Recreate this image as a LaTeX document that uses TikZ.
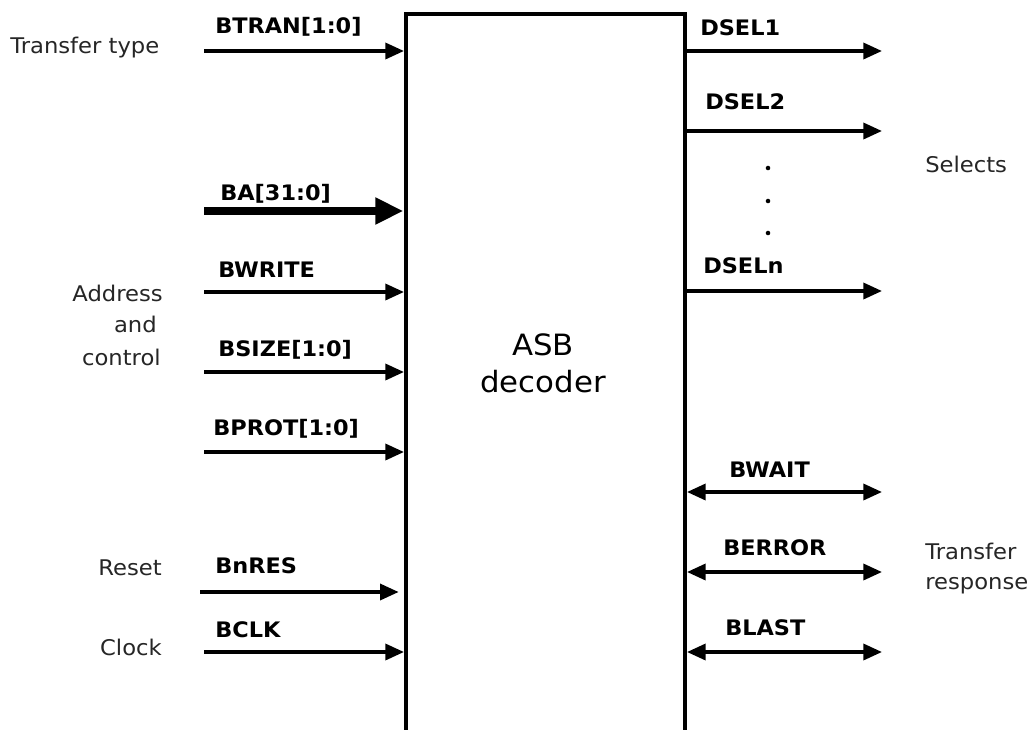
\documentclass[tikz,border=0pt]{standalone}
\usepackage{fontspec}
\setmainfont[FakeStretch=1.05]{DejaVu Sans}
\usetikzlibrary{arrows.meta}
\tikzset{
  sig/.style={line width=2.6pt,-{Triangle[length=14pt,width=12pt]}},
  bus/.style={line width=5.5pt,-{Triangle[length=21pt,width=19pt]}},
  bidir/.style={line width=2.6pt,{Triangle[length=14pt,width=12pt]}-{Triangle[length=14pt,width=12pt]}},
  slabel/.style={anchor=base west,inner sep=0pt,font=\fontsize{16pt}{19pt}\selectfont\bfseries},
  glabel/.style={inner sep=0pt,text=black!85,font=\fontsize{16.2pt}{19pt}\selectfont},
  title/.style={anchor=base,inner sep=0pt,font=\fontsize{22pt}{26pt}\selectfont},
  dotn/.style={circle,fill=black,inner sep=0pt,minimum size=3.4pt}
}
\begin{document}
\begin{tikzpicture}[x=0.75pt,y=-0.75pt]
\useasboundingbox[fill=white] (0,0) rectangle (1036,729);
% decoder box (open at the bottom, runs past the page)
\node (box) [draw,line width=3pt,anchor=north west,inner sep=0pt,
  minimum width=209.25pt,minimum height=570pt] at (404,12) {};
\node[title] (t1) at (543,355) {ASB};
\node[title] (t2) at (543,392) {decoder};
% left free ends
\coordinate (btranS) at (204,51);
\coordinate (baS) at (204,211);
\coordinate (bwriteS) at (204,292);
\coordinate (bsizeS) at (204,372);
\coordinate (bprotS) at (204,452);
\coordinate (bnresS) at (200,592);
\coordinate (bclkS) at (204,652);
\draw[sig] (btranS) -- (btranS -| box.west);
\draw[bus] (baS) -- ([xshift=-0.5pt]baS -| box.west);
\draw[sig] (bwriteS) -- (bwriteS -| box.west);
\draw[sig] (bsizeS) -- (bsizeS -| box.west);
\draw[sig] (bprotS) -- (bprotS -| box.west);
\draw[sig] (bnresS) -- ([xshift=-4pt]bnresS -| box.west);
\draw[sig] (bclkS) -- (bclkS -| box.west);
% right free ends
\coordinate (dsel1E) at (882,51);
\coordinate (dsel2E) at (882,131);
\coordinate (dselnE) at (882,291);
\coordinate (bwaitE) at (882,492);
\coordinate (berrorE) at (882,572);
\coordinate (blastE) at (882,652);
\draw[sig] (dsel1E -| box.east) -- (dsel1E);
\draw[sig] (dsel2E -| box.east) -- (dsel2E);
\draw[sig] (dselnE -| box.east) -- (dselnE);
\draw[bidir] (bwaitE -| box.east) -- (bwaitE);
\draw[bidir] (berrorE -| box.east) -- (berrorE);
\draw[bidir] (blastE -| box.east) -- (blastE);
% signal labels
\node[slabel] (lbtran) at (215,33) {BTRAN[1:0]};
\node[slabel] (lba) at (220,200) {BA[31:0]};
\node[slabel] (lbwrite) at (218,277) {BWRITE};
\node[slabel] (lbsize) at (218,356) {BSIZE[1:0]};
\node[slabel] (lbprot) at (213,435) {BPROT[1:0]};
\node[slabel] (lbnres) at (215,573) {BnRES};
\node[slabel] (lbclk) at (215,637) {BCLK};
\node[slabel] (ldsel1) at (700,35) {DSEL1};
\node[slabel] (ldsel2) at (705,109) {DSEL2};
\node[slabel] (ldseln) at (703,273) {DSELn};
\node[slabel] (lbwait) at (729,477) {BWAIT};
\node[slabel] (lberror) at (723,555) {BERROR};
\node[slabel] (lblast) at (725,635) {BLAST};
% dots
\node[dotn] (d1) at (768,168) {};
\node[dotn] (d2) at (768,201) {};
\node[dotn] (d3) at (768,233) {};
% group labels
\node[glabel,anchor=base west] (gtt) at (10,53) {Transfer type};
\node[glabel,anchor=base east] (gad1) at (163,301) {Address};
\node[glabel,anchor=base east] (gad2) at (157,332) {and};
\node[glabel,anchor=base east] (gad3) at (161,365) {control};
\node[glabel,anchor=base east] (greset) at (162,575) {Reset};
\node[glabel,anchor=base east] (gclock) at (162,655) {Clock};
\node[glabel,anchor=base west] (gsel) at (925,172) {Selects};
\node[glabel,anchor=base west] (gtr1) at (925,559) {Transfer};
\node[glabel,anchor=base west] (gtr2) at (925,589) {response};
\end{tikzpicture}
\end{document}
